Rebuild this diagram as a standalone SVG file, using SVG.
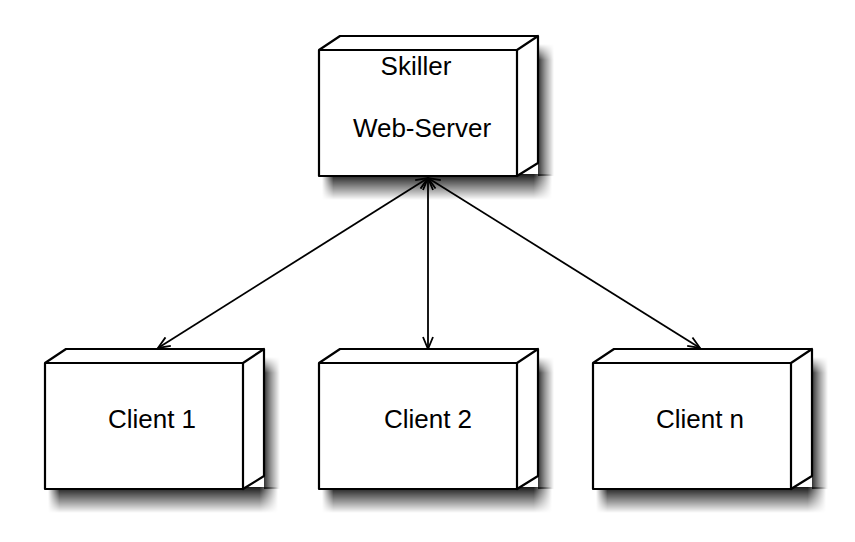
<svg xmlns="http://www.w3.org/2000/svg" width="855" height="542" viewBox="0 0 855 542">
<defs>
<linearGradient id="gv" x1="0" y1="0" x2="0" y2="1">
<stop offset="0" stop-color="#000" stop-opacity="0.9"/>
<stop offset="0.45" stop-color="#000" stop-opacity="0.5"/>
<stop offset="1" stop-color="#000" stop-opacity="0"/>
</linearGradient>
<linearGradient id="gh" x1="0" y1="0" x2="1" y2="0">
<stop offset="0" stop-color="#000" stop-opacity="0.8"/>
<stop offset="0.45" stop-color="#000" stop-opacity="0.4"/>
<stop offset="1" stop-color="#000" stop-opacity="0"/>
</linearGradient>
<linearGradient id="mh" x1="0" y1="0" x2="1" y2="0">
<stop offset="0" stop-color="#fff" stop-opacity="0"/>
<stop offset="0.05" stop-color="#fff" stop-opacity="1"/>
<stop offset="0.92" stop-color="#fff" stop-opacity="1"/>
<stop offset="1" stop-color="#fff" stop-opacity="0"/>
</linearGradient>
<linearGradient id="mv" x1="0" y1="0" x2="0" y2="1">
<stop offset="0" stop-color="#fff" stop-opacity="0"/>
<stop offset="0.12" stop-color="#fff" stop-opacity="1"/>
<stop offset="1" stop-color="#fff" stop-opacity="1"/>
</linearGradient>
<mask id="mb" maskContentUnits="objectBoundingBox"><rect width="1" height="1" fill="url(#mh)"/></mask>
<mask id="mr" maskContentUnits="objectBoundingBox"><rect width="1" height="1" fill="url(#mv)"/></mask>
<g id="shadow">
<rect x="3" y="124" width="230" height="26" fill="url(#gv)" mask="url(#mb)"/>
<rect x="219" y="-6" width="16" height="132" fill="url(#gh)" mask="url(#mr)"/>
</g>
<marker id="ah" viewBox="0 0 14 12" refX="13" refY="6" markerWidth="14" markerHeight="12" markerUnits="userSpaceOnUse" orient="auto-start-reverse">
<path d="M1,1 L13,6 L1,11" fill="none" stroke="#000" stroke-width="1.8"/>
</marker>
</defs>
<style>
.box{fill:#fff;stroke:#000;stroke-width:2.2;stroke-linejoin:round}
.lbl{font-family:"Liberation Sans",Arial,sans-serif;font-size:26px;fill:#000;text-anchor:middle}
.edge{stroke:#000;stroke-width:1.8;fill:none;marker-start:url(#ah);marker-end:url(#ah)}
</style>
<rect width="855" height="542" fill="#fff"/>
<g id="connectors">
<line class="edge" x1="428" y1="178" x2="158" y2="348"/>
<line class="edge" x1="428" y1="178" x2="428" y2="349"/>
<line class="edge" x1="428" y1="178" x2="700" y2="348"/>
</g>
<g id="server">
<use href="#shadow" x="319" y="50"/>
<path class="box" d="M319,50 H517 V176 H319 Z M319,50 L340,36 H538 L517,50 Z M517,50 L538,36 V163 L517,176 Z"/>
<text class="lbl" x="416" y="75">Skiller</text>
<text class="lbl" x="422" y="137">Web-Server</text>
</g>
<g id="client1">
<use href="#shadow" x="45" y="363"/>
<path class="box" d="M45,363 H243 V489 H45 Z M45,363 L66,349 H264 L243,363 Z M243,363 L264,349 V476 L243,489 Z"/>
<text class="lbl" x="152" y="428">Client 1</text>
</g>
<g id="client2">
<use href="#shadow" x="319" y="363"/>
<path class="box" d="M319,363 H517 V489 H319 Z M319,363 L340,349 H538 L517,363 Z M517,363 L538,349 V476 L517,489 Z"/>
<text class="lbl" x="428" y="428">Client 2</text>
</g>
<g id="clientn">
<use href="#shadow" x="593" y="363"/>
<path class="box" d="M593,363 H791 V489 H593 Z M593,363 L614,349 H812 L791,363 Z M791,363 L812,349 V476 L791,489 Z"/>
<text class="lbl" x="700" y="428">Client n</text>
</g>
</svg>
